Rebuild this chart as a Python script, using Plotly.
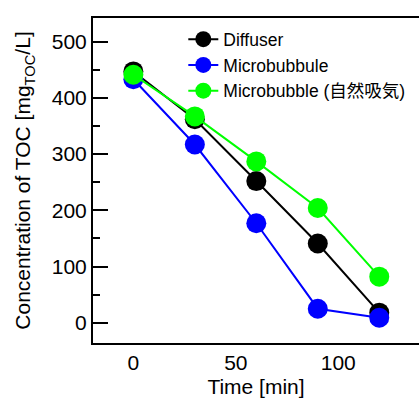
import plotly.graph_objects as go

time_min = [0, 30, 60, 90, 120]
diffuser = [447, 362, 252, 141, 18]
microbubbule = [433, 317, 177, 25, 9]
microbubble_natural = [441, 367, 287, 204, 82]

names = ["Diffuser", "Microbubbule", "Microbubble (自然吸気)"]
colors = ["#000000", "#0000ff", "#00ff00"]
series = [diffuser, microbubbule, microbubble_natural]

FONT = "Arial, 'Liberation Sans', 'Noto Sans CJK JP', sans-serif"

fig = go.Figure()
for name, col, vals in zip(names, colors, series):
    fig.add_trace(go.Scatter(
        x=time_min, y=vals, name=name, mode="lines+markers",
        line=dict(color=col, width=2),
        marker=dict(color=col, size=20),
    ))

fig.update_layout(
    width=419, height=398,
    margin=dict(l=93, r=0, t=18, b=55),
    paper_bgcolor="white", plot_bgcolor="white",
    font=dict(family=FONT, color="black", size=21),
    showlegend=True,
    legend=dict(x=0.277, y=0.99, xanchor="left", yanchor="top",
                bgcolor="rgba(0,0,0,0)", borderwidth=0,
                font=dict(size=17.5, family=FONT), tracegroupgap=0,
                itemwidth=30),
    xaxis=dict(range=[-19.7, 139.4], tickvals=[0, 50, 100],
               showgrid=False, zeroline=False, ticks="",
               showline=True, linecolor="black", linewidth=2, mirror=True,
               tickfont=dict(size=21), automargin=False,
               title=dict(text="Time [min]", font=dict(size=21))),
    yaxis=dict(range=[-36, 542], tickvals=[0, 100, 200, 300, 400, 500],
               showgrid=False, zeroline=False,
               ticks="inside", ticklen=15, tickwidth=2, tickcolor="black",
               minor=dict(dtick=50, ticks="inside", ticklen=7, tickwidth=2, tickcolor="black", showgrid=False),
               showline=True, linecolor="black", linewidth=2,
               tickfont=dict(size=21), automargin=False,
               title=dict(text="Concentration of TOC [mg<sub>TOC</sub>/L]", font=dict(size=21))),
    yaxis2=dict(range=[-1, 6], overlaying="y", side="right", dtick=2, tick0=0,
                showgrid=False, zeroline=False, showticklabels=False,
                ticks="inside", ticklen=14, tickwidth=2, tickcolor="black",
                minor=dict(dtick=1, ticks="inside", ticklen=7, tickwidth=2, tickcolor="black", showgrid=False),
                showline=True, linecolor="#bbbbbb", linewidth=1, automargin=False),
)

fig.write_html(
    "out.html",
    config={"displayModeBar": False},
    post_script="document.body.style.margin='0';document.body.style.overflow='hidden';",
)
